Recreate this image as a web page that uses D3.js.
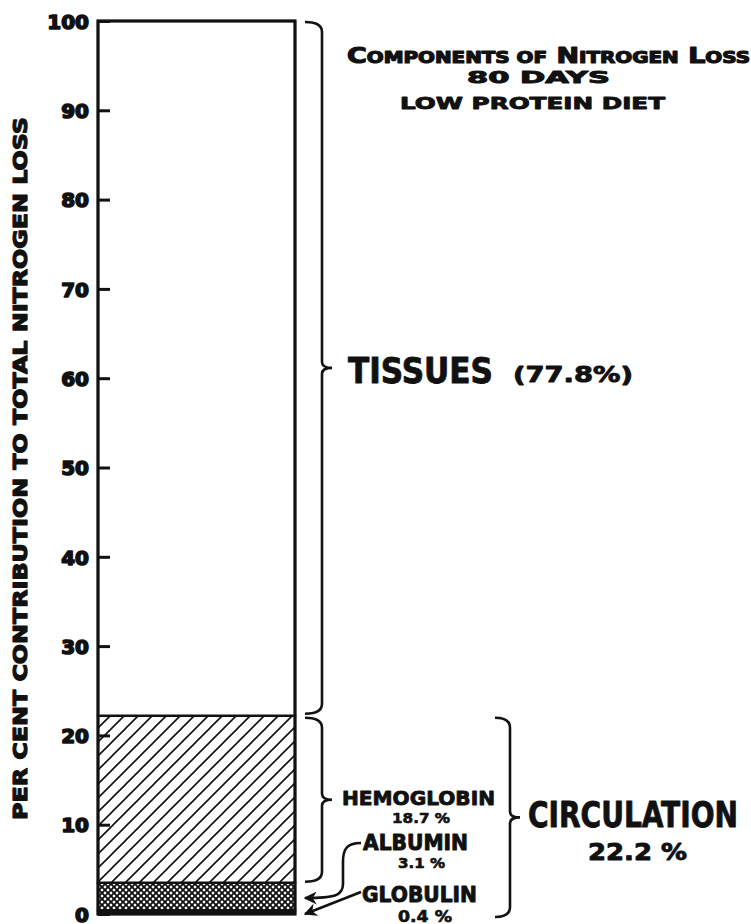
<!DOCTYPE html>
<html>
<head>
<meta charset="utf-8">
<script src="https://cdn.jsdelivr.net/npm/d3@7"></script>
<style>
  html, body { margin: 0; padding: 0; background: #fff; }
  svg { display: block; }
</style>
</head>
<body>
<svg id="chart" width="751" height="924"></svg>
<script>
// ---- data ----
const categories = ["Globulin", "Albumin", "Hemoglobin", "Tissues"];
const values = [0.4, 3.1, 18.7, 77.8];
const segmentLabels = ["GLOBULIN", "ALBUMIN", "HEMOGLOBIN", "TISSUES"];
const valueLabels = ["0.4 %", "3.1 %", "18.7 %", "(77.8%)"];
const tickValues = [0, 10, 20, 30, 40, 50, 60, 70, 80, 90, 100];
const circulationLabel = ["CIRCULATION", "22.2 %"];
const titleLines = ["Components of Nitrogen Loss", "80 DAYS", "LOW PROTEIN DIET"];
const yAxisLabel = "PER CENT CONTRIBUTION TO TOTAL NITROGEN LOSS";

// ---- layout ----
const svg = d3.select("#chart");
const barX0 = 98, barX1 = 295;
const y = d3.scaleLinear().domain([0, 100]).range([914, 21]);
const bold = "'DejaVu Sans', sans-serif";
const narrow = "'Liberation Sans Narrow', 'DejaVu Sans Condensed', sans-serif";

// patterns
const defs = svg.append("defs");
const hp = defs.append("pattern").attr("id", "hatch").attr("patternUnits", "userSpaceOnUse")
  .attr("width", 14).attr("height", 14);
hp.append("rect").attr("width", 14).attr("height", 14).attr("fill", "#fff");
hp.append("path").attr("d", "M-1,15 L15,-1 M-8,8 L8,-8 M6,22 L22,6")
  .attr("stroke", "#111").attr("stroke-width", 1.6);

const cp = defs.append("pattern").attr("id", "cross").attr("patternUnits", "userSpaceOnUse")
  .attr("width", 6).attr("height", 6).attr("x", 0).attr("y", 2);
cp.append("rect").attr("width", 6).attr("height", 6).attr("fill", "#111");
cp.append("path").attr("d", "M3,1.3 L4.7,3 L3,4.7 L1.3,3 Z M0,-1.7 L1.7,0 L0,1.7 L-1.7,0 Z M6,-1.7 L7.7,0 L6,1.7 L4.3,0 Z M0,4.3 L1.7,6 L0,7.7 L-1.7,6 Z M6,4.3 L7.7,6 L6,7.7 L4.3,6 Z")
  .attr("fill", "#fff");

defs.append("marker").attr("id", "arrow").attr("viewBox", "0 0 10 10")
  .attr("refX", 9).attr("refY", 5).attr("markerWidth", 5).attr("markerHeight", 5)
  .attr("markerUnits", "strokeWidth").attr("orient", "auto")
  .append("path").attr("d", "M0,0 L10,5 L0,10 L3,5 Z").attr("fill", "#111");

// stacked segments
let cum = 0;
const segs = values.map((v, i) => { const s = { cat: categories[i], v, y0: cum, y1: cum + v }; cum += v; return s; });
const fills = { Globulin: "#111", Albumin: "url(#cross)", Hemoglobin: "url(#hatch)", Tissues: "#fff" };

svg.append("g").selectAll("rect").data(segs).join("rect")
  .attr("x", barX0).attr("width", barX1 - barX0)
  .attr("y", d => y(d.y1)).attr("height", d => y(d.y0) - y(d.y1))
  .attr("fill", d => fills[d.cat])
  .attr("stroke", "#111").attr("stroke-width", 2.5);

svg.append("rect").attr("x", barX0).attr("y", y(100)).attr("width", barX1 - barX0)
  .attr("height", y(0) - y(100)).attr("fill", "none").attr("stroke", "#111").attr("stroke-width", 3);

// heavy lettering helper
function heavy(sel, w) {
  return sel.attr("stroke", "#111").attr("stroke-width", w).attr("stroke-linejoin", "round").attr("paint-order", "stroke");
}

// axis
const axis = d3.axisLeft(y).tickValues(tickValues).tickSizeInner(-12).tickSizeOuter(0).tickPadding(8);
const ga = svg.append("g").attr("transform", `translate(${barX0},0)`).call(axis);
ga.select(".domain").remove();
ga.selectAll(".tick line").attr("stroke", "#111").attr("stroke-width", 3);
heavy(ga.selectAll(".tick text").attr("font-family", bold).attr("font-weight", "bold")
  .attr("font-size", 20).attr("fill", "#111").attr("dy", "0.36em").attr("x", -9), 1.6);

// y label
heavy(svg.append("text").attr("transform", `translate(27,${(117 + 820) / 2}) rotate(-90)`)
  .attr("text-anchor", "middle").attr("font-family", bold).attr("font-weight", "bold")
  .attr("font-size", 19.5).attr("textLength", 703).attr("lengthAdjust", "spacingAndGlyphs")
  .attr("fill", "#111").text(yAxisLabel), 1.2);

// braces
function brace(x0, x1, x2, yt, yb) {
  const ym = (yt + yb) / 2, r = 10;
  return `M${x0},${yt} Q${x1},${yt} ${x1},${yt + r} L${x1},${ym - 6} Q${x1},${ym} ${x2},${ym} Q${x1},${ym} ${x1},${ym + 6} L${x1},${yb - r} Q${x1},${yb} ${x0},${yb}`;
}
const tiss = segs[3], hemo = segs[2];
const braces = [
  brace(305, 322, 332, y(tiss.y1) + 1, y(tiss.y0) - 2),
  brace(305, 322, 332, y(hemo.y1) + 2, y(hemo.y0) - 1),
  brace(495, 510, 520, y(hemo.y1) + 2, y(0) + 3)
];
svg.append("g").selectAll("path").data(braces).join("path").attr("d", d => d)
  .attr("fill", "none").attr("stroke", "#111").attr("stroke-width", 2.6);

// leaders
svg.append("path").attr("d", "M361,843 C346,843 343,850 343,862 L343,884 C343,896 334,898 305,898")
  .attr("fill", "none").attr("stroke", "#111").attr("stroke-width", 2.6).attr("marker-end", "url(#arrow)");
svg.append("path").attr("d", "M361,892 L305,914")
  .attr("fill", "none").attr("stroke", "#111").attr("stroke-width", 2.6).attr("marker-end", "url(#arrow)");

// text helper
function txt(s, x, yb, size, len, fam, w) {
  const t = svg.append("text").attr("x", x).attr("y", yb).attr("font-family", fam || bold)
    .attr("font-weight", "bold").attr("font-size", size).attr("fill", "#111").text(s);
  if (len) t.attr("textLength", len).attr("lengthAdjust", "spacingAndGlyphs");
  return heavy(t, w == null ? 0.9 : w);
}

// title with small caps
const t1 = heavy(svg.append("text").attr("x", 347).attr("y", 63).attr("font-family", bold)
  .attr("font-weight", "bold").attr("fill", "#111").attr("textLength", 403).attr("lengthAdjust", "spacingAndGlyphs"), 1.2);
titleLines[0].split(" ").forEach((w, i) => {
  const first = w[0], rest = w.slice(1).toUpperCase();
  const isCap = first === first.toUpperCase();
  t1.append("tspan").attr("font-size", isCap ? 21 : 15.5).text((i ? " " : "") + first.toUpperCase());
  t1.append("tspan").attr("font-size", 15.5).text(rest);
});
txt(titleLines[1], 467, 83, 15, 143);
txt(titleLines[2], 400, 109, 16.5, 265);

// segment labels
txt(segmentLabels[3], 348, 383, 35, 145, narrow, 0.8);
txt(valueLabels[3], 513, 382, 22, 120);
txt(segmentLabels[2], 342, 805, 20, 153);
txt(valueLabels[2], 392, 823, 13.5, 58, null, 0.6);
txt(segmentLabels[1], 363, 850, 20.5, 105);
txt(valueLabels[1], 398, 868, 14, 47, null, 0.6);
txt(segmentLabels[0], 362, 902, 20.5, 115);
txt(valueLabels[0], 398, 922, 15.5, 54, null, 0.6);
txt(circulationLabel[0], 528, 827, 35, 210, narrow, 0.8);
txt(circulationLabel[1], 588, 860, 23, 99);
</script>
</body>
</html>
